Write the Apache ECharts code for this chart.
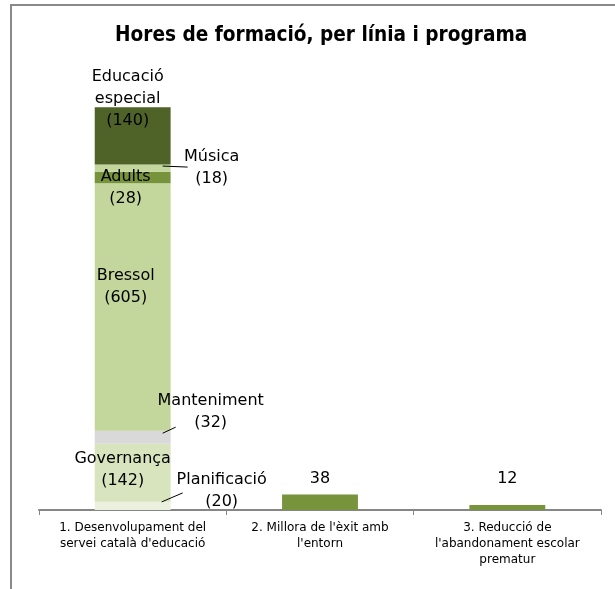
<!DOCTYPE html>
<html>
<head>
<meta charset="utf-8">
<title>Hores de formació</title>
<script src="https://cdn.jsdelivr.net/npm/echarts@6/dist/echarts.min.js"></script>
<style>
html, body { margin: 0; padding: 0; background: #fff; }
#chart { width: 615px; height: 589px; }
</style>
</head>
<body>
<div id="chart"></div>
<script>
// dades
var categories = ['1. Desenvolupament del\nservei català d\'educació', '2. Millora de l\'èxit amb\nl\'entorn', '3. Reducció de\nl\'abandonament escolar\nprematur'];
var segmentNames = ['Planificació', 'Governança', 'Manteniment', 'Bressol', 'Adults', 'Música', 'Educació especial'];
var segmentLabels = ['Planificació', 'Governança', 'Manteniment', 'Bressol', 'Adults', 'Música', 'Educació\nespecial'];
var segmentValues = [20, 142, 32, 605, 28, 18, 140];
var otherValues = [38, 12];

// estils
var segmentColors = ['#ebf1de', '#d7e4bd', '#d9d9d9', '#c3d69b', '#77933c', '#c3d69b', '#4f6228'];
var otherColor = '#77933c';
var labelOffsets = [[89, -15], [-10, -3], [78, -25], [-7, -20], [-7, 10], [79, 0], [-5, -37]];
var otherLabelOffsets = [[0, -3], [0, -13]];
// guia: [segment, dx1, dy1, dx2, dy2] respecte al centre del segment
var leaders = [[5, 30, -2, 55, -1], [2, 30, -4, 43, -10], [0, 29, -4, 50, -13]];

var FONT = "'DejaVu Sans', sans-serif";
var chart = echarts.init(document.getElementById('chart'));

var series = [];
segmentValues.forEach(function (v, i) {
    series.push({
        name: segmentNames[i],
        type: 'bar',
        stack: 'hores',
        barWidth: '40.5%',
        itemStyle: { color: segmentColors[i] },
        label: {
            show: true,
            position: 'inside',
            offset: labelOffsets[i],
            formatter: segmentLabels[i] + '\n({c})',
            color: '#000',
            fontFamily: FONT,
            fontSize: 16,
            lineHeight: 22,
            align: 'center'
        },
        data: [v, '-', '-']
    });
});

series.push({
    name: 'Altres',
    type: 'bar',
    stack: 'hores',
    itemStyle: { color: otherColor },
    label: {
        show: true,
        position: 'top',
        color: '#000',
        fontFamily: FONT,
        fontSize: 16
    },
    data: ['-'].concat(otherValues.map(function (v, i) {
        return { value: v, label: { offset: otherLabelOffsets[i] } };
    }))
});

// línies guia de les etiquetes
var cum = 0;
var mids = segmentValues.map(function (v) { var m = cum + v / 2; cum += v; return m; });
series.push({
    type: 'custom',
    z: 5,
    silent: true,
    data: leaders.map(function (l) { return [0, mids[l[0]], l[1], l[2], l[3], l[4]]; }),
    renderItem: function (params, api) {
        var p = api.coord([api.value(0), api.value(1)]);
        return {
            type: 'line',
            shape: {
                x1: p[0] + api.value(2), y1: p[1] + api.value(3),
                x2: p[0] + api.value(4), y2: p[1] + api.value(5)
            },
            style: { stroke: '#000', lineWidth: 1 }
        };
    }
});

var option = {
    animation: false,
    title: {
        text: 'Hores de formació, per línia i programa',
        left: 110,
        top: 20,
        textStyle: {
            fontFamily: "'DejaVu Sans Condensed', 'DejaVu Sans', sans-serif",
            fontSize: 20.6,
            fontWeight: 'bold',
            color: '#000'
        }
    },
    graphic: [{
        type: 'rect',
        shape: { x: 11, y: 5, width: 700, height: 700 },
        style: { fill: 'none', stroke: '#898989', lineWidth: 2 },
        silent: true
    }],
    grid: { left: 39, right: 14, top: 101, bottom: 79 },
    xAxis: {
        type: 'category',
        data: categories,
        axisLine: { lineStyle: { color: '#868686', width: 2 } },
        axisTick: { show: true, length: 5, lineStyle: { color: '#868686' } },
        axisLabel: {
            interval: 0,
            color: '#000',
            fontFamily: FONT,
            fontSize: 12,
            lineHeight: 16,
            margin: 10
        }
    },
    yAxis: {
        type: 'value',
        min: 0,
        max: 1000,
        show: false
    },
    series: series
};

chart.setOption(option);
</script>
</body>
</html>
